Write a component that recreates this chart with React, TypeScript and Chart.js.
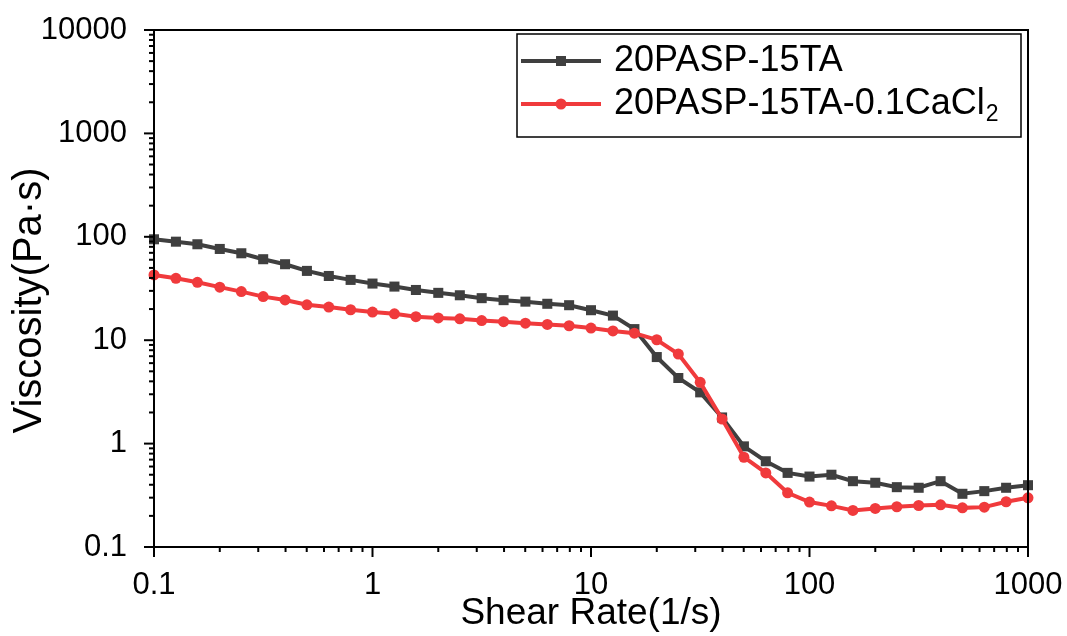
import React, { useEffect, useRef } from "react";
import { Chart, registerables } from "chart.js";

Chart.register(...registerables);

// Shear rate (1/s)
const shearRate = [
  0.1, 0.126, 0.158, 0.2, 0.251, 0.316, 0.398, 0.501, 0.631, 0.794,
  1, 1.26, 1.58, 2, 2.51, 3.16, 3.98, 5.01, 6.31, 7.94,
  10, 12.6, 15.8, 20, 25.1, 31.6, 39.8, 50.1, 63.1, 79.4,
  100, 126, 158, 200, 251, 316, 398, 501, 631, 794, 1000,
];

// Viscosity (Pa·s) – 20PASP-15TA
const viscosityTA = [
  94.6, 89.7, 84.7, 76.3, 69.3, 60.7, 54.3, 46.8, 41.8, 38.3,
  35.3, 33.0, 30.6, 28.7, 27.2, 25.5, 24.4, 23.6, 22.5, 21.8,
  19.5, 17.3, 12.8, 6.87, 4.31, 3.13, 1.79, 0.94, 0.675, 0.521,
  0.48, 0.5, 0.433, 0.418, 0.379, 0.374, 0.433, 0.327, 0.347, 0.374, 0.396,
];

// Viscosity (Pa·s) – 20PASP-15TA-0.1CaCl2
const viscosityCa = [
  42.8, 39.7, 36.3, 32.6, 29.5, 26.4, 24.5, 22.0, 20.9, 19.7,
  18.7, 18.0, 16.9, 16.4, 16.1, 15.5, 15.1, 14.6, 14.2, 13.8,
  13.1, 12.3, 11.7, 10.1, 7.35, 3.91, 1.73, 0.738, 0.521, 0.334,
  0.272, 0.25, 0.226, 0.236, 0.245, 0.252, 0.256, 0.239, 0.243, 0.274, 0.299,
];

const seriesLabels = ["20PASP-15TA", "20PASP-15TA-0.1CaCl₂"];
const seriesColors = ["#3f3f3f", "#f03a3c"];

const xTickValues = [0.1, 1, 10, 100, 1000];
const xTickLabels = ["0.1", "1", "10", "100", "1000"];
const yTickValues = [0.1, 1, 10, 100, 1000, 10000];
const yTickLabels = ["0.1", "1", "10", "100", "1000", "10000"];

const xTitle = "Shear Rate(1/s)";
const yTitle = "Viscosity(Pa·s)";

const FONT = "'Liberation Sans', Arial, Helvetica, sans-serif";

function labelFor(values: number[], labels: string[], v: number): string {
  for (let i = 0; i < values.length; i++) {
    if (Math.abs(Math.log10(v) - Math.log10(values[i])) < 1e-6) return labels[i];
  }
  return "";
}

const framePlugin = {
  id: "originFrame",
  afterDatasetsDraw(chart: any) {
    const { ctx, chartArea: a } = chart;
    const xs = chart.scales.x;
    const ys = chart.scales.y;
    ctx.save();
    ctx.strokeStyle = "#000";
    ctx.lineWidth = 2;
    ctx.lineCap = "butt";
    ctx.strokeRect(a.left, a.top, a.right - a.left, a.bottom - a.top);
    const drawTicks = (scale: any, horizontal: boolean) => {
      const min = scale.min;
      const max = scale.max;
      const e0 = Math.floor(Math.log10(min) + 1e-9);
      const e1 = Math.ceil(Math.log10(max) - 1e-9);
      for (let e = e0; e <= e1; e++) {
        for (let m = 1; m <= 9; m++) {
          const v = m * Math.pow(10, e);
          if (v < min * 0.999 || v > max * 1.001) continue;
          const p = scale.getPixelForValue(v);
          const len = m === 1 ? 10 : 5;
          ctx.beginPath();
          if (horizontal) {
            ctx.moveTo(p, a.bottom);
            ctx.lineTo(p, a.bottom + len);
          } else {
            ctx.moveTo(a.left, p);
            ctx.lineTo(a.left - len, p);
          }
          ctx.stroke();
        }
      }
    };
    drawTicks(xs, true);
    drawTicks(ys, false);
    ctx.restore();
  },
};

const yTitlePlugin = {
  id: "yTitle",
  afterDraw(chart: any) {
    const { ctx, chartArea: a } = chart;
    ctx.save();
    ctx.translate(30, (a.top + a.bottom) / 2 + 12);
    ctx.rotate(-Math.PI / 2);
    ctx.fillStyle = "#000";
    ctx.font = `40px ${FONT}`;
    ctx.textAlign = "center";
    ctx.textBaseline = "middle";
    ctx.fillText(yTitle, 0, 0);
    ctx.restore();
  },
};

const legendPlugin = {
  id: "boxLegend",
  afterDraw(chart: any) {
    const { ctx, chartArea: a } = chart;
    const left = a.right - 511;
    const top = a.top + 4;
    const width = 504;
    const height = 103;
    ctx.save();
    ctx.fillStyle = "#fff";
    ctx.fillRect(left, top, width, height);
    ctx.strokeStyle = "#000";
    ctx.lineWidth = 1.5;
    ctx.strokeRect(left, top, width, height);
    const rows = [top + 27, top + 70];
    chart.data.datasets.forEach((ds: any, i: number) => {
      const y = rows[i];
      ctx.strokeStyle = ds.borderColor;
      ctx.lineWidth = 4;
      ctx.beginPath();
      ctx.moveTo(left + 4, y);
      ctx.lineTo(left + 84, y);
      ctx.stroke();
      ctx.fillStyle = ds.borderColor;
      if (ds.pointStyle === "rect") {
        const s = 10;
        ctx.fillRect(left + 44 - s / 2, y - s / 2, s, s);
      } else {
        ctx.beginPath();
        ctx.arc(left + 44, y, 5.5, 0, Math.PI * 2);
        ctx.fill();
      }
      ctx.fillStyle = "#000";
      ctx.textBaseline = "middle";
      ctx.textAlign = "left";
      ctx.font = `36px ${FONT}`;
      const label: string = ds.label;
      const tx = left + 97;
      if (label.endsWith("₂")) {
        const main = label.slice(0, -1);
        ctx.fillText(main, tx, y);
        const w = ctx.measureText(main).width;
        ctx.font = `23px ${FONT}`;
        ctx.fillText("2", tx + w + 1, y + 11);
      } else {
        ctx.fillText(label, tx, y);
      }
    });
    ctx.restore();
  },
};

export default function App() {
  const ref = useRef<HTMLCanvasElement>(null);

  useEffect(() => {
    if (!ref.current) return;
    const chart = new Chart(ref.current, {
      type: "line",
      data: {
        datasets: [
          {
            label: seriesLabels[0],
            data: shearRate.map((x, i) => ({ x, y: viscosityTA[i] })),
            borderColor: seriesColors[0],
            backgroundColor: seriesColors[0],
            borderWidth: 4,
            pointStyle: "rect",
            pointRadius: 7.1,
            pointBorderWidth: 0,
            tension: 0,
            clip: false,
            order: 2,
          } as any,
          {
            label: seriesLabels[1],
            data: shearRate.map((x, i) => ({ x, y: viscosityCa[i] })),
            borderColor: seriesColors[1],
            backgroundColor: seriesColors[1],
            borderWidth: 4,
            pointStyle: "circle",
            pointRadius: 5.5,
            pointBorderWidth: 0,
            tension: 0,
            clip: false,
            order: 1,
          } as any,
        ],
      },
      options: {
        animation: false,
        responsive: true,
        maintainAspectRatio: false,
        layout: { padding: { left: 0, top: 30, right: 39, bottom: 0 } },
        plugins: {
          legend: { display: false },
          tooltip: { enabled: false },
        },
        scales: {
          x: {
            type: "logarithmic",
            min: 0.1,
            max: 1000,
            grid: { display: false },
            border: { display: false },
            afterBuildTicks: (s: any) => {
              s.ticks = xTickValues.map((v) => ({ value: v }));
            },
            afterFit: (s: any) => {
              s.height = 89;
              s.paddingLeft = 0;
              s.paddingRight = 0;
            },
            ticks: {
              autoSkip: false,
              maxRotation: 0,
              padding: 12,
              color: "#000",
              font: { family: FONT, size: 31 },
              callback: (v: any) => labelFor(xTickValues, xTickLabels, Number(v)),
            },
            title: {
              display: true,
              text: xTitle,
              color: "#000",
              font: { family: FONT, size: 37 },
              padding: { top: 0, bottom: 0 },
            },
          } as any,
          y: {
            type: "logarithmic",
            min: 0.1,
            max: 10000,
            grid: { display: false },
            border: { display: false },
            afterBuildTicks: (s: any) => {
              s.ticks = yTickValues.map((v) => ({ value: v }));
            },
            afterFit: (s: any) => {
              s.width = 154;
              s.paddingTop = 0;
              s.paddingBottom = 0;
            },
            ticks: {
              autoSkip: false,
              padding: 19,
              color: "#000",
              font: { family: FONT, size: 31 },
              callback: (v: any) => labelFor(yTickValues, yTickLabels, Number(v)),
            },
            title: { display: false },
          } as any,
        },
      },
      plugins: [framePlugin, yTitlePlugin, legendPlugin],
    });
    return () => chart.destroy();
  }, []);

  return (
    <div
      style={{
        position: "fixed",
        left: 0,
        top: 0,
        width: 1067,
        height: 636,
        background: "#fff",
      }}
    >
      <canvas ref={ref} />
    </div>
  );
}
